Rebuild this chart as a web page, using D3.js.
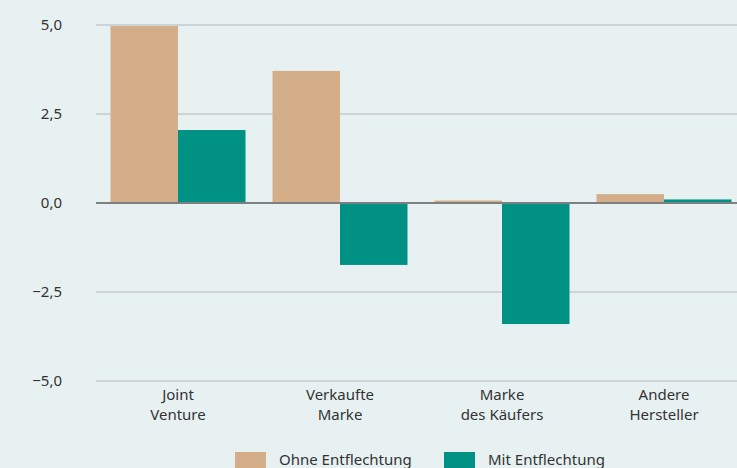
<!DOCTYPE html>
<html lang="de">
<head>
    <meta charset="utf-8">
    <title>Entflechtung</title>
    <script src="https://d3js.org/d3.v7.min.js" charset="utf-8"></script>
    <style type="text/css">
        body { margin: 0; background: #e8f1f2; }
        svg { display: block; font-family: "Noto Sans", "Open Sans", sans-serif; }
        .grid line { stroke: #c6cacc; stroke-width: 1.5; }
        .tick-label { fill: #333; font-size: 15px; font-weight: 400; }
    </style>
</head>
<body>
<script type="text/javascript">
    var categories = [["Joint", "Venture"], ["Verkaufte", "Marke"], ["Marke", "des Käufers"], ["Andere", "Hersteller"]];
    var seriesNames = ["Ohne Entflechtung", "Mit Entflechtung"];
    var ohne = [4.97, 3.71, 0.07, 0.25];
    var mit = [2.05, -1.74, -3.4, 0.1];
    var yTicks = [5, 2.5, 0, -2.5, -5];

    var width = 737, height = 468;
    var colors = ["#d3ae89", "#009185"];

    var svg = d3.select("body").append("svg")
        .attr("width", width)
        .attr("height", height);

    var x = d3.scaleBand()
        .domain(d3.range(categories.length))
        .range([97, 745])
        .paddingInner(1 / 6)
        .paddingOuter(1 / 12);

    var xs = d3.scaleBand()
        .domain([0, 1])
        .range([0, x.bandwidth()]);

    var y = d3.scaleLinear()
        .domain([-5, 5])
        .range([381, 25]);

    var fmt = function (v) {
        return d3.format(".1f")(v).replace(".", ",").replace("-", "\u2212");
    };

    // grid
    svg.append("g").attr("class", "grid")
        .selectAll("line")
        .data(yTicks.filter(function (d) { return d !== 0; }))
        .enter().append("line")
        .attr("x1", 96).attr("x2", width)
        .attr("y1", function (d) { return y(d); })
        .attr("y2", function (d) { return y(d); });

    svg.append("g")
        .selectAll("text")
        .data(yTicks)
        .enter().append("text")
        .attr("class", "tick-label")
        .attr("x", 62)
        .attr("y", function (d) { return y(d) + 5; })
        .attr("text-anchor", "end")
        .text(fmt);

    // bars
    var series = [ohne, mit];
    series.forEach(function (vals, s) {
        svg.append("g")
            .selectAll("rect")
            .data(vals)
            .enter().append("rect")
            .attr("x", function (d, i) { return x(i) + xs(s); })
            .attr("width", xs.bandwidth())
            .attr("y", function (d) { return y(Math.max(0, d)); })
            .attr("height", function (d) { return Math.abs(y(d) - y(0)); })
            .attr("fill", colors[s]);
    });

    // zero line
    svg.append("line")
        .attr("x1", 96).attr("x2", width)
        .attr("y1", y(0)).attr("y2", y(0))
        .attr("stroke", "#7d7f80")
        .attr("stroke-width", 2);

    // category labels
    var cat = svg.append("g")
        .selectAll("text")
        .data(categories)
        .enter().append("text")
        .attr("class", "tick-label")
        .attr("text-anchor", "middle")
        .attr("x", function (d, i) { return x(i) + x.bandwidth() / 2; })
        .attr("y", 400);
    cat.selectAll("tspan")
        .data(function (d) { return d; })
        .enter().append("tspan")
        .attr("x", function () { return d3.select(this.parentNode).attr("x"); })
        .attr("dy", function (d, i) { return i === 0 ? 0 : 20; })
        .text(function (d) { return d; });

    // legend
    var legendX = [235, 444];
    seriesNames.forEach(function (name, s) {
        svg.append("rect")
            .attr("x", legendX[s]).attr("y", 452)
            .attr("width", 31).attr("height", 17)
            .attr("fill", colors[s]);
        svg.append("text")
            .attr("class", "tick-label")
            .attr("x", legendX[s] + 44)
            .attr("y", 465)
            .text(name);
    });
</script>
</body>
</html>
